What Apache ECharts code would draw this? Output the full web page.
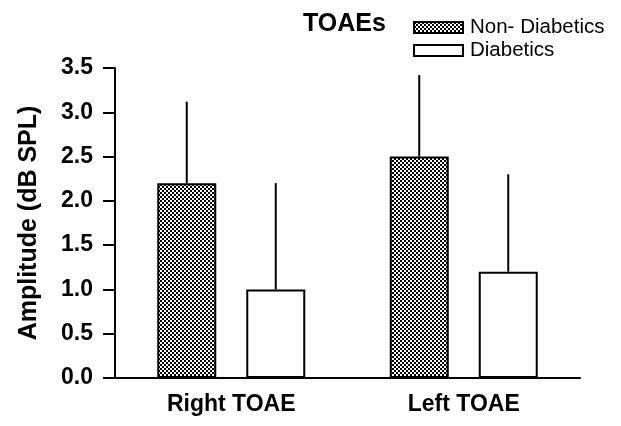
<!DOCTYPE html>
<html>
<head>
<meta charset="utf-8">
<script src="https://cdn.jsdelivr.net/npm/echarts@6/dist/echarts.min.js"></script>
<style>html,body{margin:0;padding:0;background:#fff}#c{width:621px;height:426px}</style>
</head>
<body>
<div id="c"></div>
<script>
const categories = ['Right TOAE', 'Left TOAE'];
const seriesNames = ['Non- Diabetics', 'Diabetics'];
const nonDiabetic = [2.2, 2.5];
const nonDiabeticUpper = [3.12, 3.42];
const diabetic = [1.0, 1.2];
const diabeticUpper = [2.2, 2.3];
const yTicks = [0, 0.5, 1.0, 1.5, 2.0, 2.5, 3.0, 3.5];

const FONT = '"Liberation Sans", Arial, Helvetica, sans-serif';
const BAR_W = 59;
const GAP = 30;

const cv = document.createElement('canvas');
cv.width = 4; cv.height = 4;
const cx = cv.getContext('2d');
cx.fillStyle = '#fff'; cx.fillRect(0, 0, 4, 4);
cx.fillStyle = '#000'; cx.fillRect(0, 0, 2, 2); cx.fillRect(2, 2, 2, 2);
const checker = { image: cv, repeat: 'repeat' };

function errorSeries(vals, uppers, sign) {
  return {
    type: 'custom',
    z: 1,
    silent: true,
    data: vals.map((v, i) => [i, v, uppers[i]]),
    renderItem: function (params, api) {
      const p1 = api.coord([api.value(0), api.value(1)]);
      const p2 = api.coord([api.value(0), api.value(2)]);
      const x = p1[0] + sign * (BAR_W + GAP) / 2;
      return {
        type: 'line',
        shape: { x1: x, y1: p1[1], x2: x, y2: p2[1] },
        style: { stroke: '#000', lineWidth: 2 }
      };
    }
  };
}

const chart = echarts.init(document.getElementById('c'));
chart.setOption({
  animation: false,
  backgroundColor: '#fff',
  title: {
    text: 'TOAEs', left: 298, top: 7,
    textStyle: { fontFamily: FONT, fontSize: 25, fontWeight: 'bold', color: '#000' }
  },
  legend: {
    orient: 'vertical', left: 408, top: 12, itemGap: 2,
    itemWidth: 49, itemHeight: 11, icon: 'rect',
    data: [
      { name: seriesNames[0], itemStyle: { color: checker, borderColor: '#000', borderWidth: 2 } },
      { name: seriesNames[1], itemStyle: { color: '#fff', borderColor: '#000', borderWidth: 2 } }
    ],
    textStyle: { fontFamily: FONT, fontSize: 20.5, color: '#000', padding: [0, 0, 0, 2] }
  },
  grid: { left: 115, right: 41, top: 68, bottom: 48, containLabel: false },
  xAxis: {
    type: 'category', data: categories,
    axisLine: { lineStyle: { color: '#000', width: 2 } },
    axisTick: { show: false },
    axisLabel: { fontFamily: FONT, fontSize: 23, fontWeight: 'bold', color: '#000', margin: 15 }
  },
  yAxis: {
    type: 'value', min: 0, max: 3.5, interval: 0.5,
    name: 'Amplitude (dB SPL)', nameLocation: 'middle', nameGap: 73, nameRotate: 90,
    nameTextStyle: { fontFamily: FONT, fontSize: 25, fontWeight: 'bold', color: '#000' },
    axisLine: { show: true, lineStyle: { color: '#000', width: 2 } },
    axisTick: { show: true, length: 12, lineStyle: { color: '#000', width: 2 } },
    splitLine: { show: false },
    axisLabel: {
      fontFamily: FONT, fontSize: 23, fontWeight: 'bold', color: '#000', margin: 22,
      formatter: v => (yTicks.indexOf(v) >= 0 ? v.toFixed(1) : '')
    }
  },
  series: [
    {
      name: seriesNames[0], type: 'bar', data: nonDiabetic, barWidth: BAR_W,
      barGap: (GAP / BAR_W * 100) + '%', z: 2,
      itemStyle: { color: checker, borderColor: '#000', borderWidth: 2 }
    },
    {
      name: seriesNames[1], type: 'bar', data: diabetic, barWidth: BAR_W, z: 2,
      itemStyle: { color: '#fff', borderColor: '#000', borderWidth: 2 }
    },
    errorSeries(nonDiabetic, nonDiabeticUpper, -1),
    errorSeries(diabetic, diabeticUpper, 1)
  ]
});
</script>
</body>
</html>
